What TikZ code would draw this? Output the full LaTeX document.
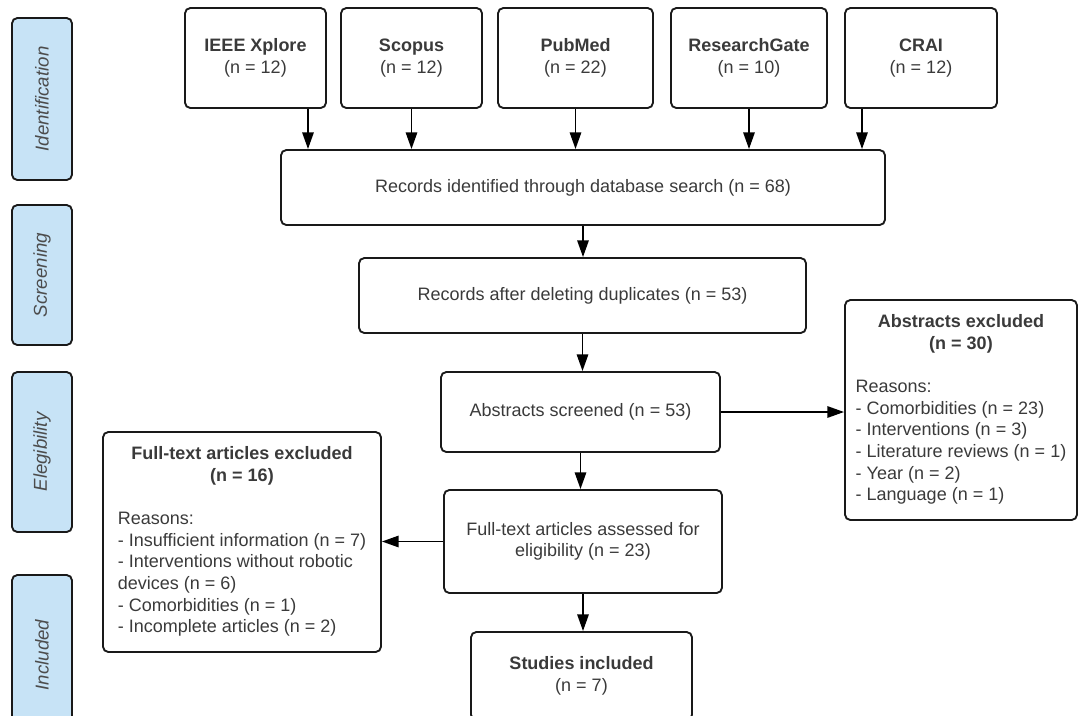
\documentclass[tikz,border=0pt]{standalone}
\usepackage{fontspec}
\setmainfont{Liberation Sans}
\usetikzlibrary{arrows.meta,positioning}
\definecolor{sideblue}{HTML}{C7E3F6}
\definecolor{txtgray}{HTML}{3A3A3A}
\tikzset{>={Triangle[length=12.5pt,width=8.5pt]},
  box/.style={draw=black!90, line width=1.4pt, rounded corners=4pt,
    align=center, text=txtgray, inner sep=0pt,
    font=\fontsize{13.5}{16.2}\selectfont},
  src/.style={box, minimum height=75pt},
  phase/.style={box, fill=sideblue, rotate=90, minimum height=45pt,
    text=black!70, font=\fontsize{14}{16}\selectfont\itshape},
  excl/.style={box, minimum width=#1, minimum height=165pt},
  arr/.style={->, line width=1.4pt}}
\newcommand{\exhead}[1]{\multicolumn{1}{@{}c@{}}{\bfseries #1}}

\begin{document}
\begin{tikzpicture}[x=0.75pt,y=-0.75pt]

    \useasboundingbox (0,0) rectangle (1079,715);
    \clip (0,0) rectangle (1079,715);

    % phases
    \node[phase, minimum width=121.5pt] (pid) at (42,99) {Identification};
    \node[phase, minimum width=105pt] (pscr) at (42,275) {Screening};
    \node[phase, minimum width=120pt] (pel) at (42,452) {Elegibility};
    \node[phase, minimum width=120pt] (pinc) at (42,655) {Included};

    % databases
    \node[src, minimum width=105.75pt] (ieee) at (255.5,58) {\textbf{IEEE Xplore}\\(n = 12)};
    \node[src, minimum width=105.75pt] (scopus) at (411.5,58) {\textbf{Scopus}\\(n = 12)};
    \node[src, minimum width=116.25pt] (pubmed) at (575.5,58) {\textbf{PubMed}\\(n = 22)};
    \node[src, minimum width=117pt] (rg) at (749,58) {\textbf{ResearchGate}\\(n = 10)};
    \node[src, minimum width=114pt] (crai) at (921,58) {\textbf{CRAI}\\(n = 12)};

    % main flow
    \node[box, minimum width=453pt, minimum height=56.25pt] (rec) at (583,187.5)
        {Records identified through database search (n = 68)};
    \node[box, minimum width=335.25pt, minimum height=56.25pt] (dup) at (582.5,295.5)
        {Records after deleting duplicates (n = 53)};
    \node[box, minimum width=209.25pt, minimum height=60pt] (abs) at (580.5,412)
        {Abstracts screened (n = 53)};
    \node[box, minimum width=208.5pt, minimum height=77.25pt] (fta) at (583,541.5)
        {Full-text articles assessed for\\eligibility (n = 23)};
    \node[box, minimum width=165.75pt, minimum height=66pt] (inc) at (581.5,676)
        {\textbf{Studies included}\\(n = 7)};

    % exclusions
    \node[excl=174pt] (absx) at (961,410)
        {\begin{tabular}{@{}l@{}}
         \exhead{Abstracts excluded}\\ \exhead{(n = 30)}\\[16.2pt]
         Reasons:\\- Comorbidities (n = 23)\\- Interventions (n = 3)\\
         - Literature reviews (n = 1)\\- Year (n = 2)\\- Language (n = 1)
         \end{tabular}};
    \node[excl=208.5pt] (fte) at (242,542)
        {\begin{tabular}{@{}l@{}}
         \exhead{Full-text articles excluded}\\ \exhead{(n = 16)}\\[16.2pt]
         Reasons:\\- Insufficient information (n = 7)\\- Interventions without robotic\\
         devices (n = 6)\\- Comorbidities (n = 1)\\- Incomplete articles (n = 2)
         \end{tabular}};

    % arrows
    \draw[arr] (ieee.south -| 308,0) -- (rec.north -| 308,0);
    \draw[arr] (scopus.south) -- (scopus.south |- rec.north);
    \draw[arr] (pubmed.south) -- (pubmed.south |- rec.north);
    \draw[arr] (rg.south) -- (rg.south |- rec.north);
    \draw[arr] (crai.south -| 862,0) -- (rec.north -| 862,0);

    \draw[arr] (rec.south) -- (rec.south |- dup.north);
    \draw[arr] (dup.south) -- (dup.south |- abs.north);
    \draw[arr] (abs.east) -- (abs.east -| absx.west);
    \draw[arr] (abs.south) -- (abs.south |- fta.north);
    \draw[arr] (fta.west) -- (fta.west -| fte.east);
    \draw[arr] (fta.south) -- (fta.south |- inc.north);

\end{tikzpicture}
\end{document}
